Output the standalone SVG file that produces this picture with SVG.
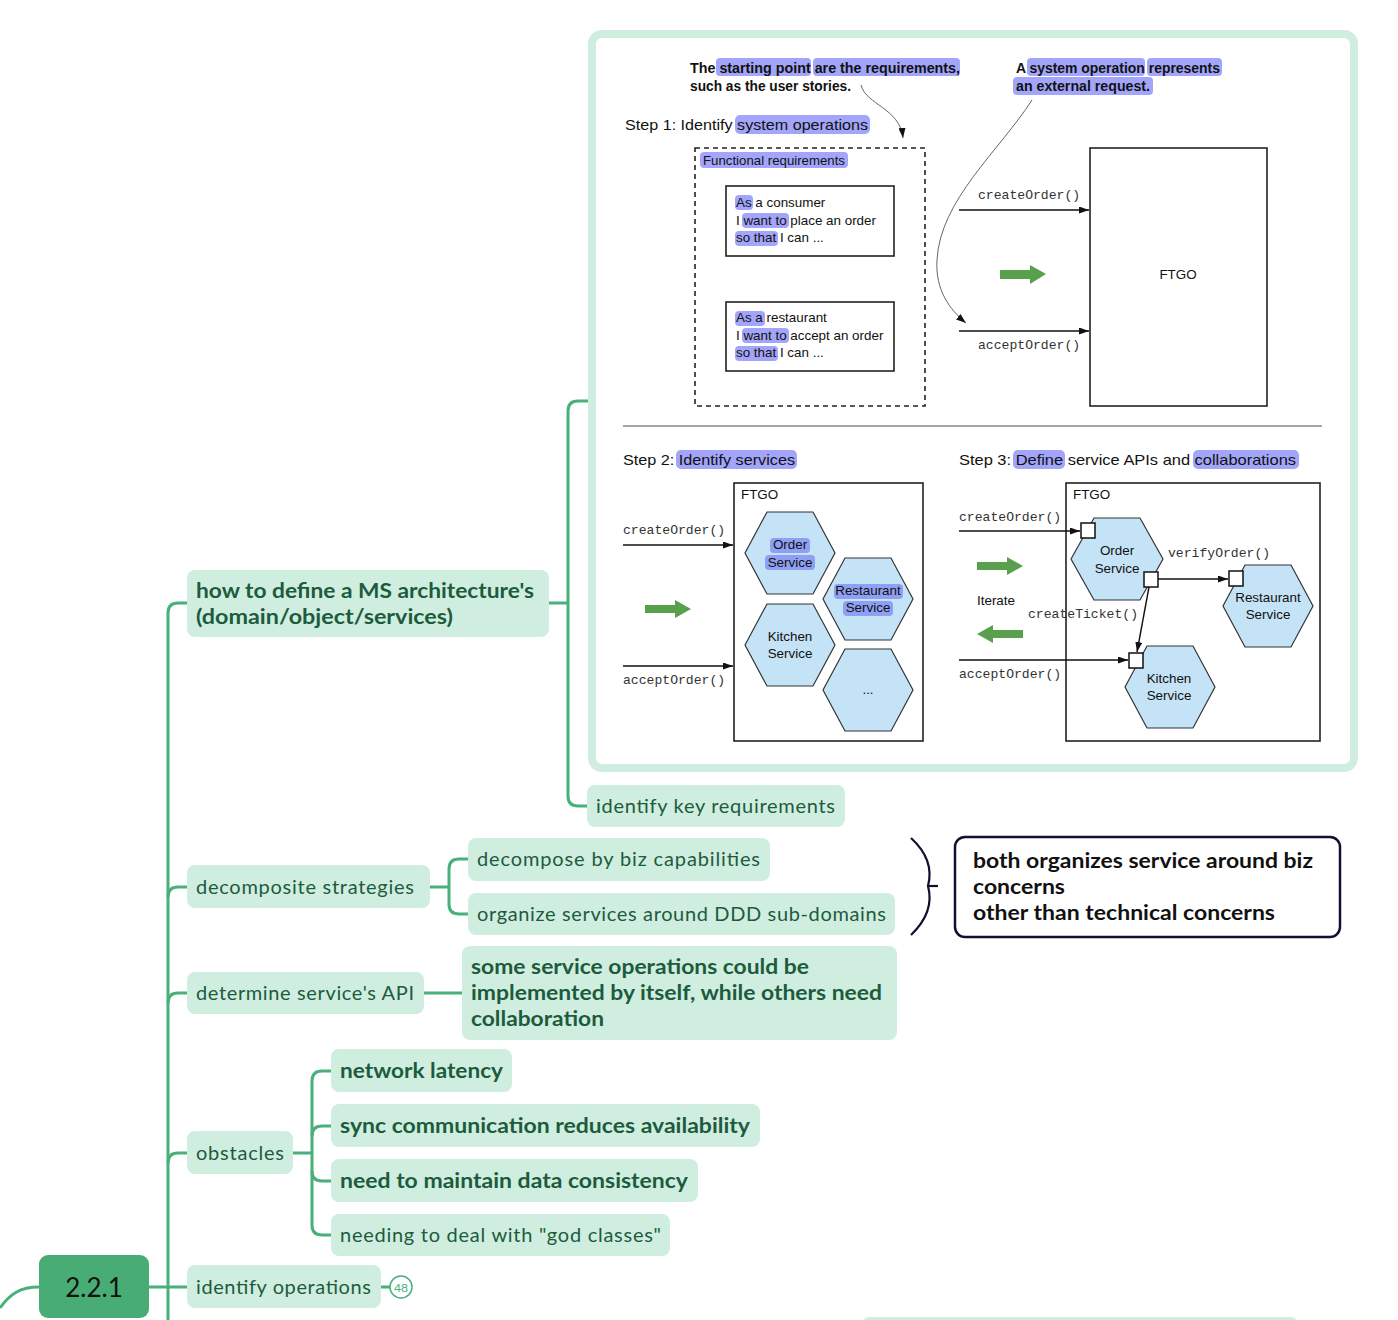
<svg xmlns="http://www.w3.org/2000/svg" width="1398" height="1320" viewBox="0 0 1398 1320">
<style>
.nd{fill:#cfeee0}
.t{font-family:Lato,"Open Sans",sans-serif;font-size:20px;fill:#1d5b3d}
.b{font-weight:bold}
.con{fill:none;stroke:#48b07a;stroke-width:3}
.hl{fill:#a2a5f9}
.hl2{fill:#8f9ff4}
.cap{font-family:"Liberation Sans",Arial,sans-serif;font-weight:bold;font-size:14px;fill:#111}
.st{font-family:"Liberation Sans",Arial,sans-serif;font-size:15px;fill:#111}
.sm{font-family:"Liberation Sans",Arial,sans-serif;font-size:13.4px;fill:#111}
.mono{font-family:"Liberation Mono","Courier New",monospace;font-size:13.1px;fill:#333}
.hex{fill:#c5e3f6;stroke:#333;stroke-width:1.2}
.box{fill:none;stroke:#222;stroke-width:1.6}
.ln{fill:none;stroke:#111;stroke-width:1.4}
.gc{fill:none;stroke:#666;stroke-width:1}
.ga{fill:#58a04b}
.port{fill:#fff;stroke:#111;stroke-width:1.5}
</style>
<defs>
<marker id="ah" markerUnits="userSpaceOnUse" markerWidth="10" markerHeight="7" refX="10" refY="3.5" orient="auto">
<path d="M0,0 L10,3.5 L0,7 z" fill="#111"/>
</marker>
</defs>

<g id="connectors">
<path class="con" d="M0 1308 C10 1294 20 1287 39 1287"/>
<path class="con" d="M149 1287 H187"/>
<path class="con" d="M187 603 H178 Q168 603 168 613 V1320"/>
<path class="con" d="M168 897 Q168 887 178 887 H187"/>
<path class="con" d="M168 1003 Q168 993 178 993 H187"/>
<path class="con" d="M168 1163 Q168 1153 178 1153 H187"/>
<path class="con" d="M549 603 H568"/>
<path class="con" d="M588 401 H578 Q568 401 568 411 V796 Q568 806 578 806 H587"/>
<path class="con" d="M430 887 H449"/>
<path class="con" d="M468 859 H459 Q449 859 449 869 V904 Q449 914 459 914 H468"/>
<path class="con" d="M424 993 H462"/>
<path class="con" d="M293 1153 H312"/>
<path class="con" d="M331 1071 H322 Q312 1071 312 1081 V1225 Q312 1235 322 1235 H331"/>
<path class="con" d="M312 1136 Q312 1126 322 1126 H331"/>
<path class="con" d="M312 1171 Q312 1181 322 1181 H331"/>
<path class="con" d="M381 1287 H390"/>
<path d="M911 838 Q935 860 928 886 Q935 912 911 935" fill="none" stroke="#101032" stroke-width="2.2"/>
<path d="M928 886 H938" fill="none" stroke="#101032" stroke-width="2.2"/>
</g>

<g id="root">
<rect x="39" y="1255" width="110" height="63" rx="9" fill="#47ad75"/>
<text x="94" y="1297" text-anchor="middle" font-family="Lato,sans-serif" font-size="26" fill="#111">2.2.1</text>
</g>

<g id="n-define">
<rect class="nd" x="187" y="570" width="362" height="67" rx="8"/>
<text class="t b" x="196" y="598" textLength="338" lengthAdjust="spacingAndGlyphs">how to define a MS architecture's</text>
<text class="t b" x="196" y="624" textLength="257" lengthAdjust="spacingAndGlyphs">(domain/object/services)</text>
</g>

<g id="n-image">
<rect x="592" y="34" width="762" height="734" rx="10" fill="#fff" stroke="#cfeee0" stroke-width="8"/>
<rect class="hl" x="716" y="58" width="95" height="18" rx="4"/>
<rect class="hl" x="813" y="58" width="147" height="18" rx="4"/>
<text class="cap" x="690" y="73" textLength="270" lengthAdjust="spacingAndGlyphs">The starting point are the requirements,</text>
<text class="cap" x="690" y="91" textLength="161" lengthAdjust="spacingAndGlyphs">such as the user stories.</text>
<rect class="hl" x="1027" y="58" width="118" height="18" rx="4"/>
<rect class="hl" x="1147" y="58" width="75" height="18" rx="4"/>
<rect class="hl" x="1013" y="77" width="140" height="18" rx="4"/>
<text class="cap" x="1016" y="73" textLength="204" lengthAdjust="spacingAndGlyphs">A system operation represents</text>
<text class="cap" x="1016" y="91" textLength="134" lengthAdjust="spacingAndGlyphs">an external request.</text>
<path class="gc" d="M861 85 C866 105 900 108 903 138" marker-end="url(#ah)"/>
<path class="gc" d="M1032 100 C1000 150 940 200 937 260 C935 290 950 310 966 323" marker-end="url(#ah)"/>
<rect class="hl" x="735" y="115" width="135" height="19" rx="5"/>
<text class="st" x="625" y="130" textLength="243" lengthAdjust="spacingAndGlyphs">Step 1: Identify system operations</text>
<rect x="695" y="148" width="230" height="258" fill="none" stroke="#222" stroke-width="1.6" stroke-dasharray="5 4"/>
<rect class="hl" x="700" y="152" width="148" height="16" rx="4"/>
<text class="sm" x="703" y="165" font-size="12" textLength="142" lengthAdjust="spacingAndGlyphs">Functional requirements</text>
<rect class="box" x="726" y="186" width="168" height="70"/>
<rect class="hl" x="735" y="195" width="18" height="15" rx="4"/>
<rect class="hl" x="742" y="213" width="47" height="15" rx="4"/>
<rect class="hl" x="735" y="231" width="43" height="15" rx="4"/>
<text class="sm" x="736" y="207">As a consumer</text>
<text class="sm" x="736" y="225">I want to place an order</text>
<text class="sm" x="736" y="242">so that I can ...</text>
<rect class="box" x="726" y="302" width="168" height="69"/>
<rect class="hl" x="735" y="311" width="30" height="15" rx="4"/>
<rect class="hl" x="742" y="328" width="47" height="15" rx="4"/>
<rect class="hl" x="735" y="346" width="43" height="15" rx="4"/>
<text class="sm" x="736" y="322">As a restaurant</text>
<text class="sm" x="736" y="340">I want to accept an order</text>
<text class="sm" x="736" y="357">so that I can ...</text>
<text class="mono" x="978" y="199">createOrder()</text>
<path class="ln" d="M959 210 H1089" marker-end="url(#ah)"/>
<path class="ga" d="M1000 270 H1030 V265 L1046 274 L1030 284 V279 H1000 z"/>
<path class="ln" d="M959 331 H1089" marker-end="url(#ah)"/>
<text class="mono" x="978" y="349">acceptOrder()</text>
<rect class="box" x="1090" y="148" width="177" height="258"/>
<text class="sm" x="1178" y="279" text-anchor="middle">FTGO</text>
<path d="M623 426 H1322" stroke="#888" stroke-width="1.3"/>
<rect class="hl" x="676" y="450" width="121" height="19" rx="5"/>
<text class="st" x="623" y="465" textLength="172" lengthAdjust="spacingAndGlyphs">Step 2: Identify services</text>
<rect class="box" x="734" y="483" width="189" height="258"/>
<text class="sm" x="741" y="499">FTGO</text>
<text class="mono" x="623" y="534">createOrder()</text>
<path class="ln" d="M623 545 H733" marker-end="url(#ah)"/>
<path class="ln" d="M623 666 H733" marker-end="url(#ah)"/>
<text class="mono" x="623" y="684">acceptOrder()</text>
<path class="ga" d="M645 605 H675 V600 L691 609 L675 618 V613 H645 z"/>
<polygon class="hex" points="745,553 767,512 813,512 835,553 813,594 767,594"/>
<rect class="hl2" x="770" y="538" width="40" height="15" rx="4"/>
<rect class="hl2" x="765" y="555" width="50" height="15" rx="4"/>
<text class="sm" x="790" y="549" text-anchor="middle">Order</text>
<text class="sm" x="790" y="567" text-anchor="middle">Service</text>
<polygon class="hex" points="823,599 845,558 891,558 913,599 891,640 845,640"/>
<rect class="hl2" x="834" y="584" width="69" height="15" rx="4"/>
<rect class="hl2" x="843" y="601" width="50" height="15" rx="4"/>
<text class="sm" x="868" y="595" text-anchor="middle">Restaurant</text>
<text class="sm" x="868" y="612" text-anchor="middle">Service</text>
<polygon class="hex" points="745,645 767,604 813,604 835,645 813,686 767,686"/>
<text class="sm" x="790" y="641" text-anchor="middle">Kitchen</text>
<text class="sm" x="790" y="658" text-anchor="middle">Service</text>
<polygon class="hex" points="823,690 845,649 891,649 913,690 891,731 845,731"/>
<text class="sm" x="868" y="694" text-anchor="middle">...</text>
<rect class="hl" x="1013" y="450" width="52" height="19" rx="5"/>
<rect class="hl" x="1193" y="450" width="106" height="19" rx="5"/>
<text class="st" x="959" y="465" textLength="337" lengthAdjust="spacingAndGlyphs">Step 3: Define service APIs and collaborations</text>
<rect class="box" x="1066" y="483" width="254" height="258"/>
<text class="sm" x="1073" y="499">FTGO</text>
<text class="mono" x="959" y="521">createOrder()</text>
<path class="ln" d="M959 531 H1080" marker-end="url(#ah)"/>
<polygon class="hex" points="1071,559 1094,518 1140,518 1163,559 1140,600 1094,600"/>
<text class="sm" x="1117" y="555" text-anchor="middle">Order</text>
<text class="sm" x="1117" y="573" text-anchor="middle">Service</text>
<polygon class="hex" points="1223,606 1245,565 1291,565 1313,606 1291,647 1245,647"/>
<text class="sm" x="1268" y="602" text-anchor="middle">Restaurant</text>
<text class="sm" x="1268" y="619" text-anchor="middle">Service</text>
<polygon class="hex" points="1125,687 1147,646 1193,646 1215,687 1193,728 1147,728"/>
<text class="sm" x="1169" y="683" text-anchor="middle">Kitchen</text>
<text class="sm" x="1169" y="700" text-anchor="middle">Service</text>
<text class="mono" x="1168" y="557">verifyOrder()</text>
<path class="ln" d="M1158 579 H1228" marker-end="url(#ah)"/>
<text class="mono" x="1028" y="618">createTicket()</text>
<path class="ln" d="M1149 587 L1137 652" marker-end="url(#ah)"/>
<path class="ln" d="M959 660 H1128" marker-end="url(#ah)"/>
<text class="mono" x="959" y="678">acceptOrder()</text>
<rect class="port" x="1081" y="523" width="14" height="15"/>
<rect class="port" x="1144" y="572" width="14" height="15"/>
<rect class="port" x="1229" y="571" width="14" height="15"/>
<rect class="port" x="1129" y="653" width="14" height="15"/>
<path class="ga" d="M977 562 H1007 V557 L1023 566 L1007 575 V570 H977 z"/>
<text class="sm" x="977" y="605">Iterate</text>
<path class="ga" d="M1023 630 H993 V625 L977 634 L993 643 V638 H1023 z"/>
</g>

<g id="n-keyreq">
<rect class="nd" x="587" y="785" width="258" height="42" rx="8"/>
<text class="t" x="596" y="813" textLength="239">identify key requirements</text>
</g>

<g id="n-decomp">
<rect class="nd" x="187" y="865" width="243" height="43" rx="8"/>
<text class="t" x="196" y="894" textLength="218">decomposite strategies</text>
</g>
<g id="n-bizcap">
<rect class="nd" x="468" y="838" width="302" height="43" rx="8"/>
<text class="t" x="477" y="866" textLength="283">decompose by biz capabilities</text>
</g>
<g id="n-ddd">
<rect class="nd" x="468" y="893" width="427" height="42" rx="8"/>
<text class="t" x="477" y="921" textLength="409">organize services around DDD sub-domains</text>
</g>
<g id="n-summary">
<rect x="955" y="837" width="385" height="100" rx="10" fill="#fff" stroke="#101032" stroke-width="2.5"/>
<text class="t b" x="973" y="868" fill="#111" style="fill:#111" textLength="340" lengthAdjust="spacingAndGlyphs">both organizes service around biz</text>
<text class="t b" x="973" y="894" style="fill:#111" textLength="92" lengthAdjust="spacingAndGlyphs">concerns</text>
<text class="t b" x="973" y="920" style="fill:#111" textLength="302" lengthAdjust="spacingAndGlyphs">other than technical concerns</text>
</g>

<g id="n-api">
<rect class="nd" x="187" y="972" width="237" height="42" rx="8"/>
<text class="t" x="196" y="1000" textLength="218">determine service's API</text>
</g>
<g id="n-collab">
<rect class="nd" x="462" y="946" width="435" height="94" rx="8"/>
<text class="t b" x="471" y="974" textLength="338" lengthAdjust="spacingAndGlyphs">some service operations could be</text>
<text class="t b" x="471" y="1000" textLength="411" lengthAdjust="spacingAndGlyphs">implemented by itself, while others need</text>
<text class="t b" x="471" y="1026" textLength="133" lengthAdjust="spacingAndGlyphs">collaboration</text>
</g>

<g id="n-obstacles">
<rect class="nd" x="187" y="1131" width="106" height="43" rx="8"/>
<text class="t" x="196" y="1160" textLength="88">obstacles</text>
</g>
<g id="n-latency">
<rect class="nd" x="331" y="1049" width="181" height="43" rx="8"/>
<text class="t b" x="340" y="1078" textLength="163" lengthAdjust="spacingAndGlyphs">network latency</text>
</g>
<g id="n-sync">
<rect class="nd" x="331" y="1104" width="429" height="43" rx="8"/>
<text class="t b" x="340" y="1133" textLength="410" lengthAdjust="spacingAndGlyphs">sync communication reduces availability</text>
</g>
<g id="n-consistency">
<rect class="nd" x="331" y="1159" width="367" height="43" rx="8"/>
<text class="t b" x="340" y="1188" textLength="348" lengthAdjust="spacingAndGlyphs">need to maintain data consistency</text>
</g>
<g id="n-god">
<rect class="nd" x="331" y="1214" width="339" height="42" rx="8"/>
<text class="t" x="340" y="1242" textLength="321">needing to deal with "god classes"</text>
</g>

<g id="n-ops">
<rect class="nd" x="187" y="1265" width="194" height="43" rx="8"/>
<text class="t" x="196" y="1294" textLength="175">identify operations</text>
<circle cx="401" cy="1287" r="11" fill="#fff" stroke="#48b07a" stroke-width="1.5"/>
<text x="401" y="1291.5" text-anchor="middle" font-family="Lato,sans-serif" font-size="12" fill="#48b07a">48</text>
</g>

<g id="n-next">
<rect class="nd" x="862" y="1317" width="436" height="20" rx="8"/>
</g>
</svg>
